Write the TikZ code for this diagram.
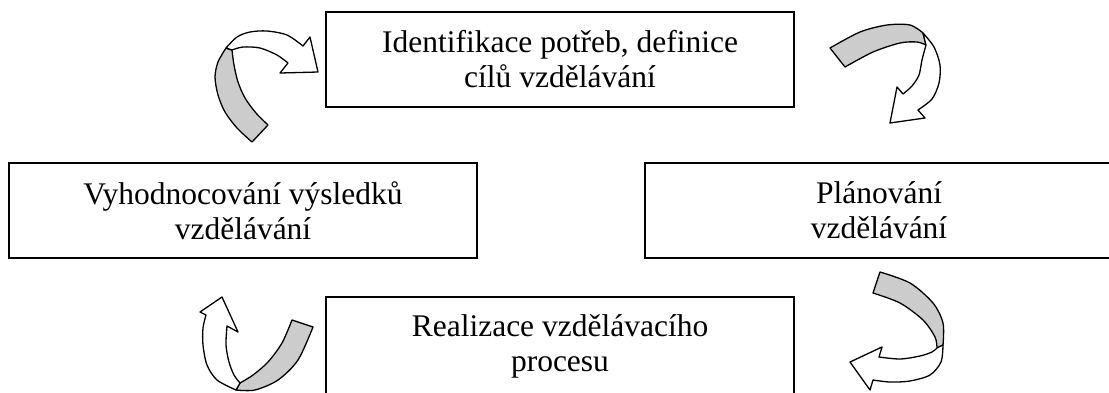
\documentclass[tikz,border=0pt]{standalone}
\usepackage{fontspec}
\setmainfont{Liberation Serif}
\definecolor{ribbonback}{RGB}{204,204,204}
\begin{document}
\begin{tikzpicture}[x=1pt,y=-1pt,
  stage/.style={draw, line width=1.5pt, minimum width=468pt, minimum height=95pt,
    align=center, inner sep=0pt, font=\fontsize{31.5}{35}\selectfont},
  backside/.style={draw, fill=ribbonback, line width=1.3pt, line join=round},
  frontside/.style={draw, fill=white, line width=1.3pt, line join=round}]
\useasboundingbox (0,0) rectangle (1109,392);
\clip (0,0) rectangle (1109,392);

% the four stages of the cycle
\node[stage] (ident) at (560,59.5) {Identifikace potřeb, definice\\cílů vzdělávání};
\node[stage] (plan) at (879,210.5) {Plánování\\vzdělávání};
\node[stage, minimum height=98pt] (real) at (560,346) {Realizace vzdělávacího\\procesu};
\node[stage] (eval) at (243,210.5) {Vyhodnocování výsledků\\vzdělávání};

% curved ribbon arrow, top left
\path[backside] plot[smooth] coordinates {(226,48) (218,62) (215,77) (218,95) (225,112) (237,128) (252,142)}
  -- (268,125)
  -- plot[smooth] coordinates {(268,125) (256,113) (245,98) (238,82) (234,65) (232,50)} -- cycle;
\path[frontside] plot[smooth] coordinates {(226,48) (237,37) (250,32) (267,31) (287,35) (303,46)}
  -- (310,37) -- (318,72) -- (280,73) -- (288,63)
  -- plot[smooth] coordinates {(288,63) (277,55) (260,48) (243,47) (232,50)} -- cycle;

% curved ribbon arrow, top right
\path[backside] plot[smooth] coordinates {(830,48) (860,32) (887,25) (910,25) (923,33)}
  -- (926,45)
  -- plot[smooth] coordinates {(926,45) (917,42) (900,43) (873,52) (845,67)} -- cycle;
\path[frontside] plot[smooth] coordinates {(923,33) (934,47) (940,65) (939,83) (932,99) (918,110)}
  -- (925,118) -- (890,123) -- (897,87) -- (903,94)
  -- plot[smooth] coordinates {(903,94) (912,86) (919,75) (922,60) (926,45)} -- cycle;

% curved ribbon arrow, bottom right
\path[backside] plot[smooth] coordinates {(880,272) (910,283) (933,303) (943,323) (943,345)}
  -- (937,348)
  -- plot[smooth] coordinates {(937,348) (935,337) (923,320) (900,303) (873,293)} -- cycle;
\path[frontside] plot[smooth] coordinates {(943,345) (941,362) (930,375) (910,381) (890,382) (873,380)}
  -- (870,390) -- (850,362) -- (882,347) -- (879,357)
  -- plot[smooth] coordinates {(879,357) (900,359) (920,356) (932,352) (937,348)} -- cycle;

% curved ribbon arrow, bottom left
\path[backside] plot[smooth] coordinates {(292,320) (282,343) (268,362) (253,375) (240,383)}
  -- (236,390)
  -- plot[smooth] coordinates {(236,390) (255,390) (278,380) (298,360) (313,327)} -- cycle;
\path[frontside] plot[smooth] coordinates {(236,390) (217,380) (207,365) (203,345) (203,328) (206,315)}
  -- (200,312) -- (222,297) -- (238,332) -- (227,326)
  -- plot[smooth] coordinates {(227,326) (226,345) (229,362) (234,375) (240,383)} -- cycle;
\end{tikzpicture}
\end{document}
